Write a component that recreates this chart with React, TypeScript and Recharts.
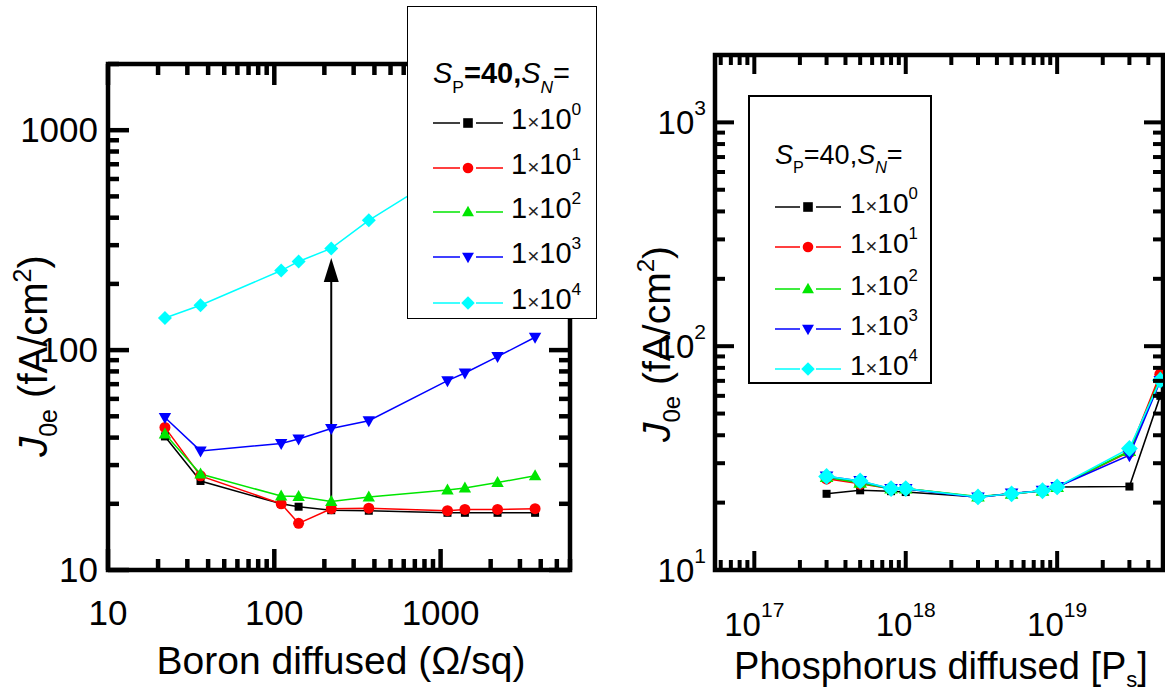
import React from 'react';
import { LineChart, Line, XAxis, YAxis, ReferenceArea, ReferenceLine } from 'recharts';

// left panel: boron diffused sheet resistance (ohm/sq) vs J0e (fA/cm2)
const boronSheetRes = [22, 36, 110, 140, 220, 370, 1100, 1400, 2200, 3700];
const boronSn0 = [40.5, 25.4, 20.0, 19.4, 18.7, 18.6, 18.2, 18.2, 18.2, 18.2];
const boronSn1 = [44.5, 26.8, 20.0, 16.3, 19.0, 19.1, 18.6, 18.85, 18.85, 19.0];
const boronSn2 = [41.5, 27.3, 21.7, 21.6, 20.5, 21.5, 23.1, 23.6, 25.0, 26.8];
const boronSn3 = [49.4, 34.8, 37.6, 39.4, 44.0, 47.7, 72.6, 78.7, 93.4, 114.4];
const boronSn4 = [140, 160, 230, 253, 290, 389, 650, 730, 900, 1150];

// right panel: phosphorus surface concentration vs J0e
const phosConc = [3e17, 5e17, 8e17, 1e18, 3e18, 5e18, 8e18, 1e19, 3e19, 4.8e19];
const phosSn0 = [21.9, 22.7, 22.5, 22.3, 21.2, 21.9, 22.6, 23.5, 23.6, 60];
const phosSn1 = [25.6, 24.3, 23.1, 23.1, 21.2, 21.9, 22.6, 23.5, 33.7, 75];
const phosSn2 = [26.0, 24.5, 23.1, 23.1, 21.3, 21.9, 22.6, 23.5, 34.0, 72];
const phosSn3 = [26.2, 25.0, 23.0, 23.0, 21.1, 22.0, 22.6, 23.5, 32.6, 70];
const phosSn4 = [26.2, 25.0, 23.1, 23.1, 21.2, 21.9, 22.6, 23.5, 34.9, 70.5];

const legendExponents = ['0', '1', '2', '3', '4'];
const arrowFrom = { x: 220, y: 19 };
const arrowTo = { x: 220, y: 262 };

const FONT = '"Liberation Sans", Arial, sans-serif';

type MarkerType = 'square' | 'circle' | 'up' | 'down' | 'diamond';

const SERIES: { key: string; color: string; marker: MarkerType }[] = [
  { key: 'sn0', color: '#000000', marker: 'square' },
  { key: 'sn1', color: '#ff0000', marker: 'circle' },
  { key: 'sn2', color: '#00e600', marker: 'up' },
  { key: 'sn3', color: '#0000ff', marker: 'down' },
  { key: 'sn4', color: '#00ffff', marker: 'diamond' },
];

const boronRows = boronSheetRes.map((x, i) => ({
  x, sn0: boronSn0[i], sn1: boronSn1[i], sn2: boronSn2[i], sn3: boronSn3[i], sn4: boronSn4[i],
}));
const phosRows = phosConc.map((x, i) => ({
  x, sn0: phosSn0[i], sn1: phosSn1[i], sn2: phosSn2[i], sn3: phosSn3[i], sn4: phosSn4[i],
}));

// minor + major tick positions for a log axis
const decadeTicks = (fromExp: number, toExp: number, maxVal: number, minVal: number) => {
  const out: number[] = [];
  for (let e = fromExp; e <= toExp; e++) {
    for (let m = 1; m <= 9; m++) {
      const v = Number((m * Math.pow(10, e)).toPrecision(6));
      if (v >= minVal && v <= maxVal) out.push(v);
    }
  }
  return out;
};

const isMajor = (v: number) => {
  const l = Math.log10(v);
  return Math.abs(l - Math.round(l)) < 1e-9;
};

const Marker = ({ type, cx, cy, s, color }: { type: MarkerType; cx: number; cy: number; s: number; color: string }) => {
  switch (type) {
    case 'square':
      return <rect x={cx - s / 2} y={cy - s / 2} width={s} height={s} fill={color} />;
    case 'circle':
      return <circle cx={cx} cy={cy} r={s / 2 + 0.5} fill={color} />;
    case 'up':
      return <polygon points={`${cx},${cy - s * 0.65} ${cx - s * 0.62},${cy + s * 0.45} ${cx + s * 0.62},${cy + s * 0.45}`} fill={color} />;
    case 'down':
      return <polygon points={`${cx},${cy + s * 0.65} ${cx - s * 0.62},${cy - s * 0.45} ${cx + s * 0.62},${cy - s * 0.45}`} fill={color} />;
    default:
      return <polygon points={`${cx},${cy - s * 0.7} ${cx + s * 0.7},${cy} ${cx},${cy + s * 0.7} ${cx - s * 0.7},${cy}`} fill={color} />;
  }
};

const dotRenderer = (type: MarkerType, color: string, s: number) => (p: any) => {
  if (p.cx == null || p.cy == null) return <g key={p.index} />;
  return (
    <g key={p.index}>
      <Marker type={type} cx={p.cx} cy={p.cy} s={s} color={color} />
    </g>
  );
};

// ---- left panel ticks ----
const L = { w: 600, top: 64, right: 30, yw: 108, xh: 123 };
const L_PW = L.w - L.yw - L.right;
const L_PH = 693 - L.top - L.xh;

const leftXTick = (p: any) => {
  const { x, y, payload } = p;
  const major = isMajor(payload.value);
  const len = major ? 21 : 11;
  return (
    <g>
      <line x1={x} x2={x} y1={y} y2={y - len} stroke="#000" strokeWidth={4.5} />
      <line x1={x} x2={x} y1={y - L_PH} y2={y - L_PH + len} stroke="#000" strokeWidth={4.5} />
      {major && (
        <text x={x} y={y + 55} textAnchor="middle" fontSize={35} fontFamily={FONT} fill="#000">
          {payload.value}
        </text>
      )}
    </g>
  );
};

const leftYTick = (p: any) => {
  const { x, y, payload } = p;
  const major = isMajor(payload.value);
  const len = major ? 21 : 11;
  return (
    <g>
      <line x1={x} x2={x + len} y1={y} y2={y} stroke="#000" strokeWidth={4.5} />
      <line x1={x + L_PW} x2={x + L_PW - len} y1={y} y2={y} stroke="#000" strokeWidth={4.5} />
      {major && (
        <text x={x - 10} y={y + 12} textAnchor="end" fontSize={35} fontFamily={FONT} fill="#000">
          {payload.value}
        </text>
      )}
    </g>
  );
};

// ---- right panel ticks ----
const R = { left: 600, w: 565, top: 55, right: 2, yw: 115, xh: 123 };
const R_PW = R.w - R.yw - R.right;
const R_PH = 693 - R.top - R.xh;

const rightXTick = (p: any) => {
  const { x, y, payload } = p;
  const major = isMajor(payload.value);
  const len = major ? 19 : 10;
  return (
    <g>
      <line x1={x} x2={x} y1={y} y2={y - len} stroke="#000" strokeWidth={4} />
      <line x1={x} x2={x} y1={y - R_PH} y2={y - R_PH + len} stroke="#000" strokeWidth={4} />
      {major && (
        <text x={x} y={y + 66} textAnchor="middle" fontSize={33} fontFamily={FONT} fill="#000">
          10<tspan fontSize={21} dy={-19}>{Math.round(Math.log10(payload.value))}</tspan>
        </text>
      )}
    </g>
  );
};

const rightYTick = (p: any) => {
  const { x, y, payload } = p;
  const major = isMajor(payload.value);
  const len = major ? 19 : 10;
  return (
    <g>
      <line x1={x} x2={x + len} y1={y} y2={y} stroke="#000" strokeWidth={4} />
      <line x1={x + R_PW} x2={x + R_PW - len} y1={y} y2={y} stroke="#000" strokeWidth={4} />
      {major && (
        <text x={x - 9} y={y + 12} textAnchor="end" fontSize={33} fontFamily={FONT} fill="#000">
          10<tspan fontSize={21} dy={-19}>{Math.round(Math.log10(payload.value))}</tspan>
        </text>
      )}
    </g>
  );
};

const ArrowShape = (p: any) => {
  const { x1, y1, x2, y2 } = p;
  const head = 24;
  const hw = 7.5;
  return (
    <g>
      <line x1={x1} y1={y1} x2={x2} y2={y2 + head - 2} stroke="#000" strokeWidth={2} />
      <polygon points={`${x2},${y2} ${x2 - hw},${y2 + head} ${x2 + hw},${y2 + head}`} fill="#000" />
    </g>
  );
};

const LegendBox = ({
  box, border, titleTop, titleSize, rowTops, iconLeft, iconW, textLeft, textSize, markerSize, bold,
}: any) => (
  <div
    style={{
      position: 'absolute', left: box.left, top: box.top, width: box.width, height: box.height,
      background: '#fff', border: `${border}px solid #000`, boxSizing: 'border-box', fontFamily: FONT,
    }}
  >
    <div style={{ position: 'absolute', left: iconLeft, top: titleTop, fontSize: titleSize, lineHeight: 1, whiteSpace: 'nowrap' }}>
      <i>S</i>
      <span style={{ fontSize: titleSize * 0.6, position: 'relative', top: titleSize * 0.35 }}>P</span>
      <span style={{ fontWeight: bold ? 'bold' : 'normal' }}>=40,</span>
      <i>S</i>
      <i style={{ fontSize: titleSize * 0.6, position: 'relative', top: titleSize * 0.35 }}>N</i>
      <span>=</span>
    </div>
    {SERIES.map((s, i) => (
      <div key={s.key} style={{ position: 'absolute', left: 0, top: rowTops[i], width: '100%', height: 0 }}>
        <svg
          width={iconW}
          height={24}
          style={{ position: 'absolute', left: iconLeft, top: -12, overflow: 'visible' }}
        >
          <line x1={0} x2={iconW / 2 - markerSize} y1={12} y2={12} stroke={s.color} strokeWidth={1.5} />
          <line x1={iconW / 2 + markerSize} x2={iconW} y1={12} y2={12} stroke={s.color} strokeWidth={1.5} />
          <Marker type={s.marker} cx={iconW / 2} cy={12} s={markerSize * 1.2} color={s.color} />
        </svg>
        <div
          style={{
            position: 'absolute', left: textLeft, top: -textSize * 0.62, fontSize: textSize,
            lineHeight: 1, whiteSpace: 'nowrap', color: '#000',
          }}
        >
          1<span style={{ fontSize: textSize * 0.72, color: '#222' }}>×</span>10
          <span style={{ fontSize: textSize * 0.6, position: 'relative', top: -textSize * 0.48 }}>{legendExponents[i]}</span>
        </div>
      </div>
    ))}
  </div>
);

const leftXTicks = decadeTicks(1, 3, 6000, 10);
const yTicks = decadeTicks(1, 3, 2000, 10);
const rightXTicks = decadeTicks(16, 19, 5e19, 5.5e16);

export default function App() {
  return (
    <div style={{ position: 'absolute', left: 0, top: 0, width: 1165, height: 693, background: '#fff', overflow: 'hidden', fontFamily: FONT }}>
      <div style={{ position: 'absolute', left: 0, top: 0 }}>
        <LineChart width={L.w} height={693} data={boronRows} margin={{ top: L.top, right: L.right, bottom: 0, left: 0 }}>
          <XAxis
            dataKey="x" type="number" scale="log" domain={[10, 6000]} allowDataOverflow ticks={leftXTicks}
            interval={0} tickSize={0} tickMargin={0} axisLine={false} tickLine={false} tick={leftXTick} height={L.xh}
          />
          <YAxis
            type="number" scale="log" domain={[10, 2000]} allowDataOverflow ticks={yTicks}
            interval={0} tickSize={0} tickMargin={0} axisLine={false} tickLine={false} tick={leftYTick} width={L.yw}
          />
          {SERIES.map((s) => (
            <Line
              key={s.key} dataKey={s.key} stroke={s.color} strokeWidth={1.5} isAnimationActive={false}
              dot={dotRenderer(s.marker, s.color, s.marker === 'square' ? 8 : 10)} activeDot={false}
            />
          ))}
          <ReferenceLine segment={[arrowFrom, arrowTo]} shape={ArrowShape} ifOverflow="visible" />
          <ReferenceArea x1={10} x2={6000} y1={10} y2={2000} fill="none" fillOpacity={0} stroke="#000" strokeWidth={4.5} ifOverflow="visible" />
        </LineChart>
      </div>
      <div style={{ position: 'absolute', left: R.left, top: 0 }}>
        <LineChart width={R.w} height={693} data={phosRows} margin={{ top: R.top, right: R.right, bottom: 0, left: 0 }}>
          <XAxis
            dataKey="x" type="number" scale="log" domain={[5.5e16, 5e19]} allowDataOverflow ticks={rightXTicks}
            interval={0} tickSize={0} tickMargin={0} axisLine={false} tickLine={false} tick={rightXTick} height={R.xh}
          />
          <YAxis
            type="number" scale="log" domain={[10, 2000]} allowDataOverflow ticks={yTicks}
            interval={0} tickSize={0} tickMargin={0} axisLine={false} tickLine={false} tick={rightYTick} width={R.yw}
          />
          {SERIES.map((s) => (
            <Line
              key={s.key} dataKey={s.key} stroke={s.color} strokeWidth={1.6} isAnimationActive={false}
              dot={dotRenderer(s.marker, s.color, s.marker === 'square' ? 8 : s.marker === 'diamond' ? 12 : 11)} activeDot={false}
            />
          ))}
          <ReferenceArea x1={5.5e16} x2={5e19} y1={10} y2={2000} fill="none" fillOpacity={0} stroke="#000" strokeWidth={4.5} ifOverflow="visible" />
        </LineChart>
      </div>

      <svg width={1165} height={693} style={{ position: 'absolute', left: 0, top: 0, pointerEvents: 'none' }}>
        <text transform="translate(47,356) rotate(-90)" textAnchor="middle" fontSize={40} fontFamily={FONT} fill="#000">
          <tspan fontStyle="italic">J</tspan>
          <tspan fontSize={25} dy={10}>0e</tspan>
          <tspan dy={-10}> (fA/cm</tspan>
          <tspan fontSize={25} dy={-16}>2</tspan>
          <tspan dy={16}>)</tspan>
        </text>
        <text x={341} y={674} textAnchor="middle" fontSize={39} fontFamily={FONT} fill="#000">
          Boron diffused (Ω/sq)
        </text>
        <text transform="translate(670,344) rotate(-90)" textAnchor="middle" fontSize={39} fontFamily={FONT} fill="#000">
          <tspan fontStyle="italic">J</tspan>
          <tspan fontSize={24} dy={10}>0e</tspan>
          <tspan dy={-10}> (fA/cm</tspan>
          <tspan fontSize={24} dy={-16}>2</tspan>
          <tspan dy={16}>)</tspan>
        </text>
        <text x={941} y={679} textAnchor="middle" fontSize={38} fontFamily={FONT} fill="#000">
          Phosphorus diffused [P<tspan fontSize={22} dy={8}>s</tspan><tspan dy={-8}>]</tspan>
        </text>
      </svg>

      <LegendBox
        box={{ left: 407, top: 6, width: 190, height: 313 }} border={1.5}
        titleTop={52} titleSize={29} rowTops={[116, 161, 205, 250, 296]}
        iconLeft={25} iconW={70} textLeft={103} textSize={29} markerSize={8} bold
      />
      <LegendBox
        box={{ left: 748, top: 95, width: 184, height: 289 }} border={2}
        titleTop={45} titleSize={27} rowTops={[110, 150, 192, 232, 272]}
        iconLeft={25} iconW={66} textLeft={100} textSize={28} markerSize={8} bold={false}
      />
    </div>
  );
}
